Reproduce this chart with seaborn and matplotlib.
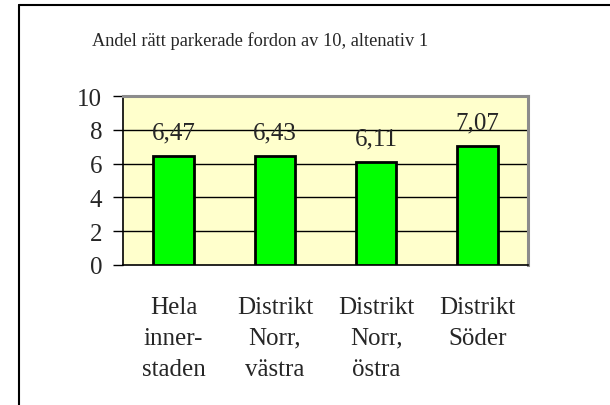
import matplotlib
matplotlib.use("Agg")
import matplotlib.pyplot as plt
import numpy as np
import pandas as pd
import seaborn as sns
from matplotlib.lines import Line2D

sns.set_style("white")
plt.rcParams["font.family"] = ["Liberation Serif", "DejaVu Serif"]

TITLE = "Andel rätt parkerade fordon av 10, altenativ 1"
categories = ["Hela\ninner-\nstaden", "Distrikt\nNorr,\nvästra", "Distrikt\nNorr,\nöstra", "Distrikt\nSöder"]
values = [6.47, 6.43, 6.11, 7.07]
value_labels = ["6,47", "6,43", "6,11", "7,07"]
y_ticks = [0, 2, 4, 6, 8, 10]

FS = 18

df = pd.DataFrame({"omrade": categories, "andel": values})

fig = plt.figure(figsize=(6.1, 4.06), dpi=100)
ax = fig.add_axes([123 / 610, 1 - 266 / 406, 405 / 610, 169 / 406])
ax.set_facecolor("#FFFFCC")

sns.barplot(data=df, x="omrade", y="andel", ax=ax, color="#00FF00",
            edgecolor="black", linewidth=2, width=0.4, saturation=1, zorder=3)

ax.set_ylim(0, 10)
ax.set_xlim(-0.5, len(categories) - 0.5)
ax.set_yticks(y_ticks)
ax.set_yticklabels([str(t) for t in y_ticks], fontsize=FS)
for t in y_ticks[1:-1]:
    ax.axhline(t, color="black", linewidth=1, zorder=1)

# category labels centered, ticks on category boundaries
ax.set_xticks(range(len(categories)))
ax.set_xticklabels(categories, fontsize=FS, linespacing=1.55, va="top")
ax.tick_params(axis="x", which="major", length=0, pad=22)
ax.set_xticks(np.arange(-0.5, len(categories), 1.0), minor=True)
ax.tick_params(axis="x", which="minor", length=7, width=1, color="black", direction="out")
ax.tick_params(axis="y", length=7, width=1, color="black", direction="out", pad=8, left=True)
ax.set_xlabel("")
ax.set_ylabel("")

for side in ["left", "bottom"]:
    ax.spines[side].set_color("black")
    ax.spines[side].set_linewidth(1.2)
for side in ["top", "right"]:
    ax.spines[side].set_color("#8c8c8c")
    ax.spines[side].set_linewidth(2.2)

for i, (v, lab) in enumerate(zip(values, value_labels)):
    ax.annotate(lab, (i, v), xytext=(0, 9), textcoords="offset points",
                ha="center", va="bottom", fontsize=FS, zorder=4)

fig.text(260 / 610, 1 - 41 / 406, TITLE, ha="center", va="center", fontsize=13.2)

# outer frame (only top and left edges visible)
fig.add_artist(Line2D([19 / 610, 1], [1 - 6 / 406, 1 - 6 / 406], transform=fig.transFigure,
                      color="black", linewidth=1.5))
fig.add_artist(Line2D([19 / 610, 19 / 610], [0, 1 - 6 / 406], transform=fig.transFigure,
                      color="black", linewidth=1.5))

fig.savefig("out.png", dpi=100)
